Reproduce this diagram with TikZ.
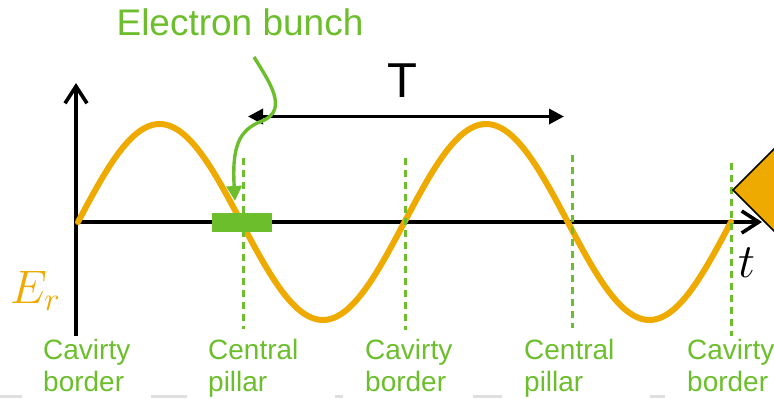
\RequirePackage{fix-cm}
\documentclass[tikz,border=0pt]{standalone}
\usepackage{fontspec}
\setmainfont{Liberation Sans}
\usetikzlibrary{arrows.meta}
\definecolor{wave}{RGB}{239,170,0}
\definecolor{grn}{RGB}{108,190,44}
\tikzset{
  axis/.style={line width=3.6pt, draw=black},
  sinewave/.style={line width=6pt, draw=wave, line cap=round},
  guide/.style={line width=3pt, draw=grn, dash pattern=on 7pt off 5pt},
  lbl/.style={text=grn, font=\fontsize{28}{32}\selectfont, align=left, anchor=north west, inner sep=0pt},
  graymark/.style={line width=3pt, draw=gray!25},
}
\begin{document}
\begin{tikzpicture}[x=1pt,y=-1pt]
\useasboundingbox (0,0) rectangle (774,399);
\clip (0,0) rectangle (774,399);
% axes
\coordinate (origin) at (76,222);
\coordinate (ytop) at (76,83);
\coordinate (ybot) at (76,336);
\coordinate (xend) at (762,222);
\draw[axis, -{Straight Barb[length=17pt,width=22pt]}] (ybot) -- (ytop);
\draw[axis, -{Straight Barb[length=17pt,width=22pt]}] (origin) -- (xend);
% sine
\draw[sinewave] plot[domain=78:731, samples=200] (\x, {222 - 98*sin(1.10260*(\x-78))});
% bunch
\node[fill=grn, minimum width=60pt, minimum height=19pt, inner sep=0pt] (bunch) at (242,222.5) {};
% guides
\foreach \n/\xx/\ya/\yb in {g1/243/158/329, g2/405/158/330, g3/572/155/328, g4/731/163/336}{
  \coordinate (\n a) at (\xx,\ya);
  \coordinate (\n b) at (\xx,\yb);
  \draw[guide] (\n a) -- (\n b);
}
% period arrow
\coordinate (Tl) at (248,116.5);
\coordinate (Tr) at (564,116.5);
\draw[line width=3.4pt, {Triangle[length=15pt,width=15pt]}-{Triangle[length=15pt,width=15pt]}] (Tl) -- (Tr);
\node[font=\fontsize{49}{52}\selectfont, anchor=base, inner sep=0pt] (T) at (402,97) {T};
% electron bunch label and arrow
\node[text=grn, font=\fontsize{37}{40}\selectfont, anchor=base, inner sep=0pt] (eb) at (240,35) {Electron bunch};
\coordinate (ebs) at (254,57);
\coordinate (ebt) at (235,201);
\draw[line width=3.4pt, draw=grn, -{Triangle[length=15pt,width=15pt]}, fill=none]
  (ebs) .. controls (268,80) and (290,110) .. (262,121)
        .. controls (238,130) and (232,148) .. (ebt);
% axis labels
\node[text=wave, font=\fontsize{47}{50}\selectfont, anchor=base west, inner sep=0pt] (Er) at (10,303) {$E_r$};
\node[font=\fontsize{48}{50}\selectfont, anchor=base west, inner sep=0pt] (tl) at (738,277) {$t$};
% bottom labels
\node[lbl] (l1) at (43,339) {Cavirty\\border};
\node[lbl] (l2) at (208,339) {Central\\pillar};
\node[lbl] (l3) at (365,339) {Cavirty\\border};
\node[lbl] (l4) at (524,339) {Central\\pillar};
\node[lbl] (l5) at (687,339) {Cavirty\\border};
% gray marks
\foreach \a/\b in {0/22, 151/187, 335/343, 473/502, 650/665}{
  \draw[graymark] (\a,396) -- (\b,396);
}
% diamond at right
\coordinate (dl) at (733,190);
\coordinate (dt) at (790,133);
\coordinate (db) at (790,247);
\draw[line width=1.5pt, fill=wave, draw=black] (dt) -- (dl) -- (db);
\end{tikzpicture}
\end{document}
